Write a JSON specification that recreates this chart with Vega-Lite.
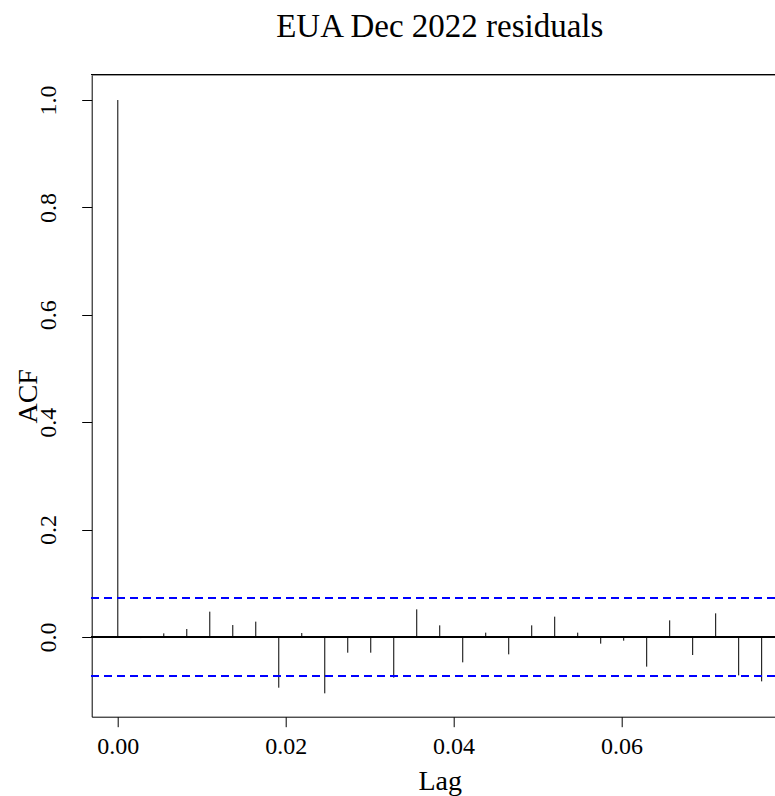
{
  "$schema": "https://vega.github.io/schema/vega-lite/v6.json",
  "autosize": {"type": "none"},
  "padding": {"left": 91.7, "top": 75, "right": 0, "bottom": 79.3},
  "width": 683.3,
  "height": 641.7,
  "background": "white",
  "config": {
    "view": {"stroke": null},
    "font": "Liberation Serif",
    "axis": {"grid": false, "domainColor": "black", "tickColor": "black", "labelColor": "black", "titleColor": "black", "labelFont": "Liberation Serif", "titleFont": "Liberation Serif", "titleFontWeight": "normal", "domainWidth": 1, "tickWidth": 1}
  },
  "title": {
    "text": "EUA Dec 2022 residuals",
    "font": "Liberation Serif",
    "fontSize": 33,
    "fontWeight": "normal",
    "color": "black",
    "anchor": "middle",
    "baseline": "alphabetic",
    "offset": 4,
    "dx": 6.4
  },
  "data": {
    "values": [
      {"lag": 0.000000, "acf": 1.0},
      {"lag": 0.002740, "acf": -0.002},
      {"lag": 0.005479, "acf": 0.0068},
      {"lag": 0.008219, "acf": 0.0149},
      {"lag": 0.010959, "acf": 0.0472},
      {"lag": 0.013699, "acf": 0.0223},
      {"lag": 0.016438, "acf": 0.0286},
      {"lag": 0.019178, "acf": -0.0944},
      {"lag": 0.021918, "acf": 0.0074},
      {"lag": 0.024658, "acf": -0.1049},
      {"lag": 0.027397, "acf": -0.0292},
      {"lag": 0.030137, "acf": -0.0292},
      {"lag": 0.032877, "acf": -0.0757},
      {"lag": 0.035616, "acf": 0.0515},
      {"lag": 0.038356, "acf": 0.0217},
      {"lag": 0.041096, "acf": -0.0472},
      {"lag": 0.043836, "acf": 0.0081},
      {"lag": 0.046575, "acf": -0.0323},
      {"lag": 0.049315, "acf": 0.0217},
      {"lag": 0.052055, "acf": 0.0379},
      {"lag": 0.054795, "acf": 0.0081},
      {"lag": 0.057534, "acf": -0.0124},
      {"lag": 0.060274, "acf": -0.0068},
      {"lag": 0.063014, "acf": -0.0552},
      {"lag": 0.065753, "acf": 0.0310},
      {"lag": 0.068493, "acf": -0.0335},
      {"lag": 0.071233, "acf": 0.0441},
      {"lag": 0.073973, "acf": -0.0714},
      {"lag": 0.076712, "acf": -0.0826}
    ]
  },
  "layer": [
    {
      "mark": {"type": "rule", "color": "black", "strokeWidth": 1},
      "encoding": {
        "x": {
          "field": "lag", "type": "quantitative",
          "scale": {"domain": [-0.00311, 0.0783], "nice": false, "zero": false},
          "axis": {
            "values": [0, 0.02, 0.04, 0.06], "format": ".2f",
            "title": "Lag", "tickSize": 10, "labelFontSize": 24, "labelPadding": 27,
            "labelBaseline": "alphabetic", "labelFlush": false, "labelOverlap": false,
            "titleFontSize": 28, "titleBaseline": "alphabetic", "titleY": 72.6, "titleX": 348
          }
        },
        "y": {
          "field": "acf", "type": "quantitative",
          "scale": {"domain": [-0.1484, 1.0466], "nice": false, "zero": false},
          "axis": {
            "values": [0, 0.2, 0.4, 0.6, 0.8, 1.0], "format": ".1f",
            "title": "ACF", "tickSize": 10, "labelFontSize": 24, "labelPadding": 26,
            "labelAngle": -90, "labelAlign": "center", "labelBaseline": "alphabetic",
            "labelFlush": false, "labelOverlap": false,
            "titleFontSize": 28, "titleAngle": -90, "titleBaseline": "alphabetic",
            "titleAlign": "center", "titleX": -54.7, "titleY": 320.85
          }
        },
        "y2": {"datum": 0}
      }
    },
    {
      "mark": {"type": "rule", "color": "black", "strokeWidth": 1},
      "encoding": {"y": {"datum": 0}}
    },
    {
      "mark": {"type": "rule", "color": "black", "strokeWidth": 1},
      "encoding": {"y": {"datum": 1.0475}}
    },
    {
      "mark": {"type": "rule", "color": "#0000ff", "strokeWidth": 1, "strokeDash": [8, 5]},
      "encoding": {"y": {"datum": 0.0726}}
    },
    {
      "mark": {"type": "rule", "color": "#0000ff", "strokeWidth": 1, "strokeDash": [8, 5]},
      "encoding": {"y": {"datum": -0.0726}}
    }
  ]
}
